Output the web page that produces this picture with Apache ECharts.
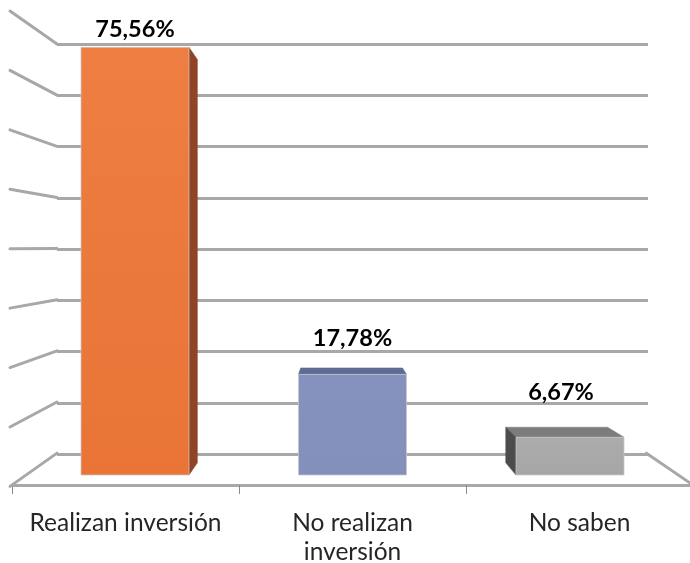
<!DOCTYPE html>
<html>
<head>
<meta charset="utf-8">
<style>html,body{margin:0;padding:0;background:#fff}#c{width:690px;height:563px}</style>
<script src="https://cdn.jsdelivr.net/npm/echarts@6/dist/echarts.min.js"></script>
</head>
<body>
<div id="c"></div>
<script>
const categories = ['Realizan inversión', 'No realizan\ninversión', 'No saben'];
const values = [75.56, 17.78, 6.67];
const valueLabels = ['75,56%', '17,78%', '6,67%'];
const axisMax = 80;
const axisStep = 10;

const GRID_GREY = '#A8A8A8';
const FONT = 'Lato';
const palette = [
  {top:'#EE7E42', bottom:'#E97436', side:'#8F4523', cap:'#B85C2C', left:'#8F4523'},
  {top:'#8592BE', bottom:'#8390BB', side:'#4F5B80', cap:'#5F6B93', left:'#4F5B80'},
  {top:'#ACACAC', bottom:'#A6A6A6', side:'#8A8A8A', cap:'#7C7C7C', left:'#4C4C4C'}
];
const barVP = [336, 261], barDepth = 0.057, barRatio = 0.4965;
const wallVP = [347, 248], wallDepth = 0.1395;
const labelNudge = [[0,-18],[0,-36],[-9,-45]];

const wallData = [];
for (let v = 0; v <= axisMax; v += axisStep) wallData.push([0, v]);
wallData.push([1, 0]);

const back = (p, vp, t) => [p[0] + t * (vp[0] - p[0]), p[1] + t * (vp[1] - p[1])];

function renderWall(params, api) {
  const a = api.coord([api.value(0), api.value(1)]);
  const b = back(a, wallVP, wallDepth);
  return {type:'line', shape:{x1:a[0], y1:a[1], x2:b[0], y2:b[1]},
    style:{stroke:GRID_GREY, lineWidth:3, lineCap:'round'}};
}

function renderBar(params, api) {
  const i = api.value(0), v = api.value(1);
  const c = palette[i];
  const base = api.coord([i, 0]), topPt = api.coord([i, v]);
  const w = api.size([1, 0])[0] * barRatio;
  const xl = base[0] - w / 2, xr = base[0] + w / 2, yt = topPt[1], yb = base[1];
  const TL = [xl, yt], TR = [xr, yt], BL = [xl, yb], BR = [xr, yb];
  const bTL = back(TL, barVP, barDepth), bTR = back(TR, barVP, barDepth),
        bBL = back(BL, barVP, barDepth), bBR = back(BR, barVP, barDepth);
  const kids = [];
  const poly = (pts, fill) => kids.push({type:'polygon', shape:{points:pts},
    style:{fill:fill, stroke:fill, lineWidth:0.5}});
  if (yt > barVP[1]) poly([TL, TR, bTR, bTL], c.cap);
  if (xr < barVP[0]) poly([TR, BR, bBR, bTR], c.side);
  if (xl > barVP[0]) poly([TL, BL, bBL, bTL], c.left);
  kids.push({type:'rect', shape:{x:xl, y:yt, width:w, height:yb - yt},
    style:{fill:new echarts.graphic.LinearGradient(0,0,0,1,[
      {offset:0,color:c.top},{offset:1,color:c.bottom}]),
      stroke:'rgba(200,200,200,0.75)', lineWidth:1}});
  const n = labelNudge[i];
  kids.push({type:'text', style:{text:valueLabels[i], x:base[0] + n[0], y:yt + n[1],
    fill:'#000', font:'bold 23.5px ' + FONT, textAlign:'center', textVerticalAlign:'middle'}});
  return {type:'group', children:kids};
}

const chart = echarts.init(document.getElementById('c'), null, {renderer:'canvas'});
chart.setOption({
  animation:false,
  backgroundColor:'#fff',
  textStyle:{fontFamily:FONT},
  grid:[
    {left:57, right:42, top:44, bottom:109, outerBoundsMode:'none'},
    {left:10, right:-5, top:11, bottom:76.6, outerBoundsMode:'none'},
    {left:12, right:-3, top:20, bottom:78, outerBoundsMode:'none'},
    {left:26.25, right:11.25, top:22.2, bottom:88, outerBoundsMode:'none'}
  ],
  xAxis:[
    {gridIndex:0, type:'category', data:categories, show:false},
    {gridIndex:1, type:'value', min:0, max:1, show:false},
    {gridIndex:2, type:'category', data:categories,
      axisLine:{show:true, lineStyle:{color:GRID_GREY, width:3}},
      axisTick:{show:true, alignWithLabel:false, length:9, lineStyle:{color:'#8C8C8C', width:1}},
      axisLabel:{color:'#262626', fontFamily:FONT, fontSize:24.5, lineHeight:29, margin:24,
        interval:0}},
    {gridIndex:3, type:'category', data:categories, show:false}
  ],
  yAxis:[0,1,2,3].map(g => ({
    gridIndex:g, type:'value', min:0, max:axisMax, interval:axisStep,
    show:g === 0,
    axisLine:{show:false}, axisTick:{show:false}, axisLabel:{show:false},
    splitLine:{show:g === 0, lineStyle:{color:GRID_GREY, width:3}}
  })),
  series:[
    {type:'custom', xAxisIndex:1, yAxisIndex:1, data:wallData, renderItem:renderWall, silent:true, z:1},
    {type:'custom', name:'Inversión', xAxisIndex:3, yAxisIndex:3,
      data:values.map((v,i) => [i, v]), renderItem:renderBar, z:5}
  ]
});
</script>
</body>
</html>
